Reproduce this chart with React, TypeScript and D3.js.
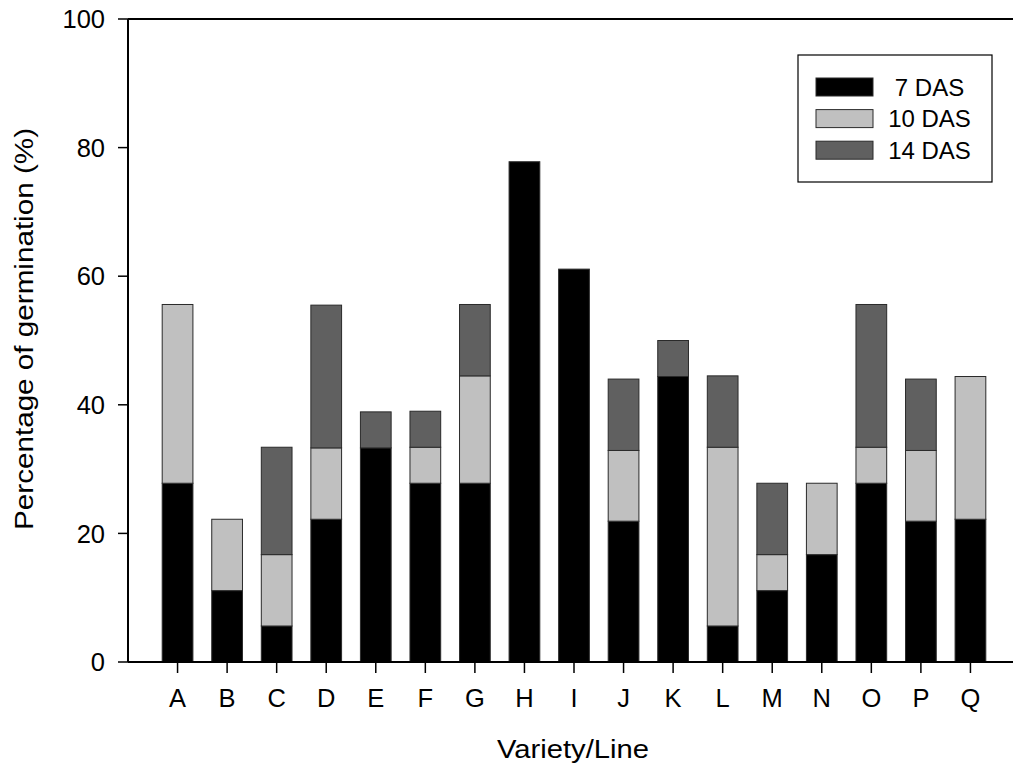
import React from "react";
import * as d3 from "d3";

const categories = ["A","B","C","D","E","F","G","H","I","J","K","L","M","N","O","P","Q"];
const das7 = [27.8, 11.1, 5.6, 22.2, 33.3, 27.8, 27.8, 77.8, 61.1, 21.9, 44.4, 5.6, 11.1, 16.7, 27.8, 21.9, 22.2];
const das10 = [27.8, 11.1, 11.1, 11.1, 0, 5.6, 16.7, 0, 0, 11.0, 0, 27.8, 5.6, 11.1, 5.6, 11.0, 22.2];
const das14 = [0, 0, 16.7, 22.2, 5.6, 5.6, 11.1, 0, 0, 11.1, 5.6, 11.1, 11.1, 0, 22.2, 11.1, 0];
const seriesNames = ["7 DAS", "10 DAS", "14 DAS"];
const seriesColors = ["#000000", "#c0c0c0", "#606060"];
const yTicks = [0, 20, 40, 60, 80, 100];

const W = 1013, H = 768;
const left = 128, right = 1020, top = 19, bottom = 662;
const FONT = "Arial, 'Liberation Sans', Helvetica, sans-serif";

export default function App() {
  const x = d3.scaleLinear().domain([0, categories.length + 1]).range([left, right]);
  const y = d3.scaleLinear().domain([0, 100]).range([bottom, top]);
  const step = x(1) - x(0);
  const bw = step * 0.62;

  const rows = categories.map((c, i) => ({ cat: c, s0: das7[i], s1: das10[i], s2: das14[i] }));
  const stack = d3.stack<any>().keys(["s0", "s1", "s2"]);
  const layers = stack(rows);

  return (
    <svg width={W} height={H} style={{ position: "absolute", left: 0, top: 0, display: "block" }} fontFamily={FONT}>
      <rect x={0} y={0} width={W} height={H} fill="#fff" />
      {layers.map((layer, li) => (
        <g key={li}>
          {layer.map((d, i) => {
            const h = y(d[0]) - y(d[1]);
            if (h <= 0.01) return null;
            return (
              <rect key={i} x={x(i + 1) - bw / 2} y={y(d[1])} width={bw} height={h}
                fill={seriesColors[li]} stroke="#2a2a2a" strokeWidth={1} />
            );
          })}
        </g>
      ))}
      {/* axes */}
      <line x1={left} x2={left} y1={top} y2={bottom} stroke="#000" strokeWidth={2} />
      <line x1={left} x2={right} y1={bottom} y2={bottom} stroke="#000" strokeWidth={2} />
      <line x1={left} x2={right} y1={top} y2={top} stroke="#000" strokeWidth={2} />
      {yTicks.map(t => (
        <g key={t}>
          <line x1={left - 10} x2={left} y1={y(t)} y2={y(t)} stroke="#000" strokeWidth={1.5} />
          <text x={105} y={y(t)} dy="0.36em" textAnchor="end" fontSize={25.5}>{t}</text>
        </g>
      ))}
      {categories.map((c, i) => (
        <g key={c}>
          <line x1={x(i + 1)} x2={x(i + 1)} y1={bottom} y2={bottom + 11} stroke="#000" strokeWidth={1.5} />
          <text x={x(i + 1)} y={706.5} textAnchor="middle" fontSize={25.5}>{c}</text>
        </g>
      ))}
      <text x={497} y={758} fontSize={26} textLength={152} lengthAdjust="spacingAndGlyphs">Variety/Line</text>
      <text transform={`translate(33, 530) rotate(-90)`} fontSize={26} textLength={402} lengthAdjust="spacingAndGlyphs">Percentage of germination (%)</text>
      {/* legend */}
      <rect x={798} y={55} width={194} height={127} fill="#fff" stroke="#000" strokeWidth={1.2} />
      {seriesNames.map((n, i) => (
        <g key={n}>
          <rect x={816} y={78 + i * 31.6} width={57} height={18} fill={seriesColors[i]} stroke="#2a2a2a" strokeWidth={1} />
          <text x={929.5} y={95.5 + i * 31.6} textAnchor="middle" fontSize={24}>{n}</text>
        </g>
      ))}
    </svg>
  );
}
